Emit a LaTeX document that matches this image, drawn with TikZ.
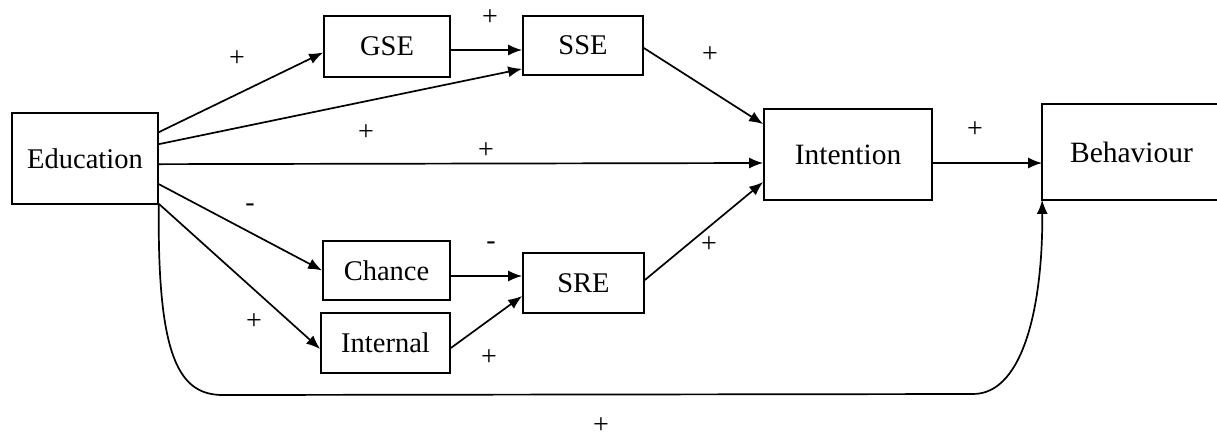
\documentclass[tikz,border=0pt]{standalone}
\usepackage{fontspec}
\setmainfont{Liberation Serif}
\usetikzlibrary{arrows.meta,calc}

\tikzset{
  box/.style={draw, line width=1.7pt, rectangle, inner sep=0pt,
              font=\fontsize{28.5}{34}\selectfont},
  bigbox/.style={box, font=\fontsize{29.5}{35}\selectfont},
  link/.style={line width=1.7pt, -{Latex[length=14pt,width=11pt]}},
  sign/.style={inner sep=0pt, font=\fontsize{28}{30}\selectfont}
}

\begin{document}
\begin{tikzpicture}[x=1pt,y=-1pt]
\useasboundingbox (0,0) rectangle (1217,440);

% boxes
\node[box, minimum width=146pt, minimum height=91pt] (edu) at (85,158.5) {Education};
\node[box, minimum width=126pt, minimum height=61pt] (gse) at (387,46.5) {GSE};
\node[box, minimum width=120pt, minimum height=59pt] (sse) at (583,45.5) {SSE};
\node[bigbox, minimum width=168pt, minimum height=91pt] (int) at (848,154.5) {Intention};
\node[bigbox, draw=none, minimum width=177pt, minimum height=94pt] (beh) at (1131.5,152) {Behaviour};
\draw[line width=1.7pt] (beh.north east) -- (beh.north west) -- (beh.south west) -- (beh.south east);
\node[box, minimum width=127pt, minimum height=59pt] (cha) at (386.5,270.5) {Chance};
\node[box, minimum width=129pt, minimum height=60pt] (inl) at (385.5,343) {Internal};
\node[box, minimum width=121pt, minimum height=60pt] (sre) at (583.5,283) {SRE};

% connectors
\draw[link] ($(edu.north east)+(0,20)$) -- ($(gse.west)+(0,6)$);
\draw[link] ($(edu.north east)+(0,32)$) -- ($(sse.south west)+(0,-7)$);
\draw[link] ($(gse.east)+(0,3.5)$) -- ($(sse.west)+(0,4.5)$);
\draw[link] ($(sse.east)+(0,2.5)$) -- ($(int.north west)+(0,16)$);
\draw[link] ($(edu.north east)+(0,52)$) -- ($(int.west)+(0,8.5)$);
\draw[link] ($(sre.east)+(0,-3)$) -- ($(int.west)+(0,27.5)$);
\draw[link] ($(int.east)+(0,8.5)$) -- ($(beh.west)+(0,11)$);
\draw[link] ($(edu.north east)+(0,72)$) -- (cha.west);
\draw[link] ($(edu.south east)+(0,-1)$) -- ($(inl.west)+(0,6)$);
\draw[link] ($(cha.east)+(0,5.5)$) -- ($(sre.west)+(0,-7)$);
\draw[link] ($(inl.east)+(0,5)$) -- ($(sre.west)+(0,13)$);
\coordinate (bl) at (223,395);
\coordinate (br) at (973,394);
\draw[link] (edu.south east) .. controls (157,360) and (180,395) .. (bl)
  -- (br) .. controls (1025,394) and (1043,300) .. (beh.south west);

% signs
\node[sign] (s1) at (237,59) {+};
\node[sign] (s2) at (490,18) {+};
\node[sign] (s3) at (710,55) {+};
\node[sign] (s4) at (366,133) {+};
\node[sign] (s5) at (486,151) {+};
\node[sign] (s6) at (975,130) {+};
\node[sign] (s7) at (250,208) {-};
\node[sign] (s8) at (254,322) {+};
\node[sign] (s9) at (491,246) {-};
\node[sign] (s10) at (489,358) {+};
\node[sign] (s11) at (709,245) {+};
\node[sign] (s12) at (601,426) {+};
\end{tikzpicture}
\end{document}
